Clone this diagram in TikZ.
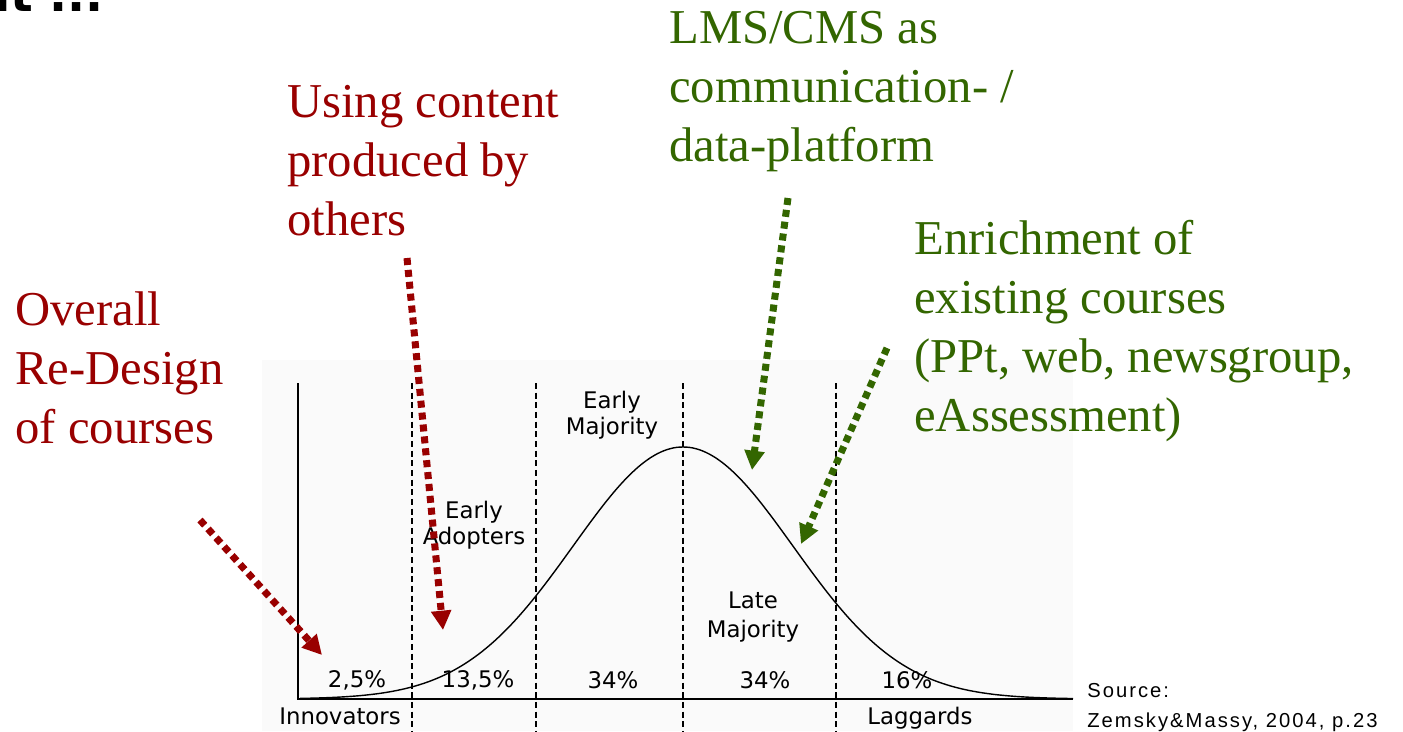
\documentclass[tikz,border=0pt]{standalone}
\usepackage{fontspec}
\setmainfont{Liberation Serif}
\newfontfamily\chartfont{DejaVu Sans}
\newfontfamily\sourcefont{Liberation Sans}[LetterSpace=10]
\usetikzlibrary{arrows.meta}
\definecolor{darkred}{RGB}{153,0,0}
\definecolor{darkgreen}{RGB}{51,102,0}
\tikzset{
	bigtext/.style={anchor=base west, align=left, inner sep=0pt, font=\fontsize{27.7}{33.5}\selectfont},
	charttext/.style={align=center, inner sep=0pt, font=\chartfont\fontsize{13}{15}\selectfont},
	hint/.style={line width=4pt, dash pattern=on 4pt off 2.8pt, -{Triangle[length=11pt,width=11pt]}},
}

\begin{document}
\begin{tikzpicture}[x=0.02cm, y=-0.02cm]
	\useasboundingbox (0,0) rectangle (1403,731);
	% Slide Title %
	\node (title) [anchor=base east, inner sep=0pt, font=\chartfont\bfseries\fontsize{27}{30}\selectfont] at (104,11) {at ...};
	% Chart Background %
	\fill [black!2] (262,360) rectangle (1073,731);
	% Axes %
	\draw [line width=1pt] (298,383) -- (298,699) -- (1073,699);
	% Segment Borders %
	\foreach \x in {412, 536, 683, 836}
		{\draw [line width=1pt, dash pattern=on 3.5pt off 2pt] (\x,383) -- (\x,731);}
	% Bell Curve %
	\draw [line width=0.8pt] plot [domain=300:1073, samples=120, smooth] (\x, {699-252*exp(-0.5*((\x-683)/110)*((\x-683)/110))});
	% Segment Names %
	\node (adoptersname) [charttext] at (474,525) {Early\\Adopters};
	\node (earlymajname) [charttext] at (612,415) {Early\\Majority};
	\node (latemajname) [charttext] at (753,617) {Late\\[2pt]Majority};
	\node (innovname) [charttext] at (340,716) {Innovators};
	\node (laggname) [charttext] at (920,718) {Laggards};
	% Shares %
	\node (innovshare) [charttext] at (357,680) {2,5\%};
	\node (adoptshare) [charttext] at (478,680) {13,5\%};
	\node (earlyshare) [charttext] at (613,680) {34\%};
	\node (lateshare) [charttext] at (765,680) {34\%};
	\node (laggshare) [charttext] at (907,680) {16\%};
	% Source %
	\node (source) [anchor=base west, inner sep=0pt, font=\sourcefont\fontsize{11.5}{14}\selectfont] at (1087,697) {Source:};
	\node (reference) [anchor=base west, inner sep=0pt, font=\sourcefont\fontsize{11.5}{14}\selectfont] at (1087,727) {Zemsky\&Massy, 2004, p.23};
	% Usage Levels (anchored at last line) %
	\node (redesign) [bigtext, darkred] at (15,443) {Overall\\Re-Design\\of courses};
	\node (reuse) [bigtext, darkred] at (287,235) {Using content\\produced by\\others};
	\node (platform) [bigtext, darkgreen] at (669,161) {LMS/CMS as\\communication- /\\data-platform};
	\node (enrichment) [bigtext, darkgreen] at (914,431) {Enrichment of\\existing courses\\(PPt, web, newsgroup,\\eAssessment)};
	% Arrows %
	\coordinate (redesigntail) at (200,520);
	\coordinate (redesigntip) at (322,655);
	\coordinate (reusetail) at (407,258);
	\coordinate (reusetip) at (443,630);
	\coordinate (platformtail) at (788,198);
	\coordinate (platformtip) at (752,470);
	\coordinate (enrichtail) at (887,348);
	\coordinate (enrichtip) at (801,544);
	\draw [hint, darkred] (redesigntail) -- (redesigntip);
	\draw [hint, darkred] (reusetail) -- (reusetip);
	\draw [hint, darkgreen] (platformtail) -- (platformtip);
	\draw [hint, darkgreen] (enrichtail) -- (enrichtip);
\end{tikzpicture}
\end{document}
